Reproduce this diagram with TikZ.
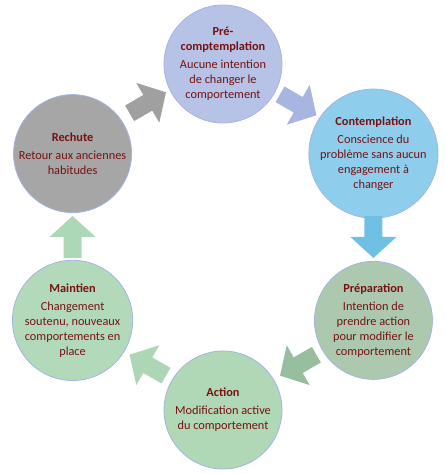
\documentclass[tikz,border=0pt]{standalone}
\usepackage{fontspec}
\setmainfont{Carlito}
\usetikzlibrary{calc}

\definecolor{ringblue}{RGB}{165,180,226}
\definecolor{stagered}{RGB}{118,18,18}
\definecolor{prefill}{RGB}{182,194,230}
\definecolor{prearrow}{RGB}{168,181,224}
\definecolor{contfill}{RGB}{142,206,236}
\definecolor{contarrow}{RGB}{112,192,230}
\definecolor{prepfill}{RGB}{172,201,175}
\definecolor{preparrow}{RGB}{152,190,160}
\definecolor{actfill}{RGB}{176,216,182}
\definecolor{actarrow}{RGB}{172,214,182}
\definecolor{mainfill}{RGB}{178,218,186}
\definecolor{mainarrow}{RGB}{172,216,184}
\definecolor{rechfill}{RGB}{166,166,166}
\definecolor{recharrow}{RGB}{160,160,160}

\begin{document}
\begin{tikzpicture}[x=1pt,y=1pt,
    stage/.style={circle, minimum size=118pt, inner sep=0pt, draw=ringblue,
        line width=0.8pt, align=center, text=stagered,
        font=\fontsize{12.3}{15}\selectfont},
    bigarrow/.pic={\path[pic actions] (-21,-9) -- (0,-9) -- (0,-23) -- (21,0)
        -- (0,23) -- (0,9) -- (-21,9) -- cycle;}]
\useasboundingbox (0,0) rectangle (445,474);
\coordinate (mid) at (223,237);

\node[stage, fill=prefill] (pre) at ($(mid)+(90:173)$)
    {\textbf{Pré-}\\\textbf{comptemplation}\\[3pt]Aucune intention\\de changer le\\comportement};
\node[stage, fill=contfill] (cont) at ($(mid)+(29:172)$)
    {\textbf{Contemplation}\\[3pt]Conscience du\\problème sans aucun\\engagement à\\changer};
\node[stage, fill=prepfill] (prep) at ($(mid)+(-29:172)$)
    {\textbf{Préparation}\\[3pt]Intention de\\prendre action\\pour modifier le\\comportement};
\node[stage, fill=actfill] (action) at ($(mid)+(-90:173)$)
    {\textbf{Action}\\[3pt]Modification active\\du comportement};
\node[stage, fill=mainfill] (maint) at ($(mid)+(-151:172)$)
    {\textbf{Maintien}\\[3pt]Changement\\soutenu, nouveaux\\comportements en\\place};
\node[stage, fill=rechfill] (rechute) at ($(mid)+(151:172)$)
    {\textbf{Rechute}\\[3pt]Retour aux anciennes\\habitudes};

% block arrows between the stages
\pic[fill=recharrow, rotate=30] at ($(rechute)!0.5!(pre)+(0,6)$) {bigarrow};
\pic[fill=prearrow, rotate=-30] at ($(pre)!0.5!(cont)+(0,4)$) {bigarrow};
\pic[fill=contarrow, rotate=-90] at ($(cont)!0.5!(prep)$) {bigarrow};
\pic[fill=preparrow, rotate=210] at ($(prep)!0.5!(action)$) {bigarrow};
\pic[fill=actarrow, rotate=150] at ($(action)!0.5!(maint)$) {bigarrow};
\pic[fill=mainarrow, rotate=90] at ($(maint)!0.5!(rechute)$) {bigarrow};
\end{tikzpicture}
\end{document}
